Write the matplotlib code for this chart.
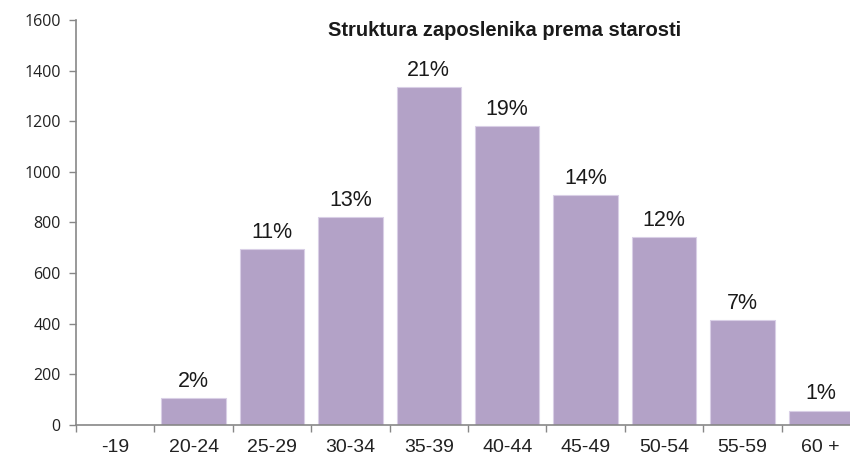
import matplotlib
matplotlib.use("Agg")
import matplotlib.pyplot as plt
import numpy as np

categories = ["-19", "20-24", "25-29", "30-34", "35-39", "40-44", "45-49", "50-54", "55-59", "60 +"]
values = [0, 108, 695, 822, 1336, 1180, 909, 743, 416, 57]
pct_labels = ["", "2%", "11%", "13%", "21%", "19%", "14%", "12%", "7%", "1%"]
yticks = [0, 200, 400, 600, 800, 1000, 1200, 1400, 1600]
title = "Struktura zaposlenika prema starosti"

narrow = ["Liberation Sans Narrow", "Liberation Sans", "DejaVu Sans"]

fig = plt.figure(figsize=(8.5, 4.61), dpi=100)
ax = fig.add_axes([76/850, 36/461, 784/850, 405/461])

x = np.arange(len(categories))
ax.bar(x, values, width=0.82, color="#B3A2C7", edgecolor="#D9CFE6", linewidth=0.8, zorder=2)

for xi, v, lab in zip(x, values, pct_labels):
    if lab:
        ax.annotate(lab, (xi, v), xytext=(0, 8), textcoords="offset points",
                    ha="center", va="baseline", fontsize=15.5,
                    family=narrow, color="#1a1a1a")

ax.set_xlim(-0.5, len(categories) - 0.5)
ax.set_ylim(0, 1600)
ax.set_yticks(yticks)
ax.set_yticklabels([str(t) for t in yticks], fontsize=11.5, family=["Open Sans", "DejaVu Sans"], color="#222222")

ax.set_xticks(x)
ax.set_xticklabels(categories, fontsize=14, family=narrow, color="#222222")
ax.set_xticks(np.arange(len(categories) + 1) - 0.5, minor=True)
ax.tick_params(axis="x", which="major", length=0, pad=10)
ax.tick_params(axis="x", which="minor", length=5, color="#878787", width=1, direction="out")
ax.tick_params(axis="y", length=5, color="#878787", width=1, direction="out", pad=6)

for s in ["top", "right"]:
    ax.spines[s].set_visible(False)
for s in ["left", "bottom"]:
    ax.spines[s].set_color("#878787")
    ax.spines[s].set_linewidth(1.2)

fig.text(505/850, 1 - 30/461, title, ha="center", va="center", fontsize=14.5,
         fontweight="bold", family=narrow, color="#1a1a1a")

fig.savefig("out.png", dpi=100)
